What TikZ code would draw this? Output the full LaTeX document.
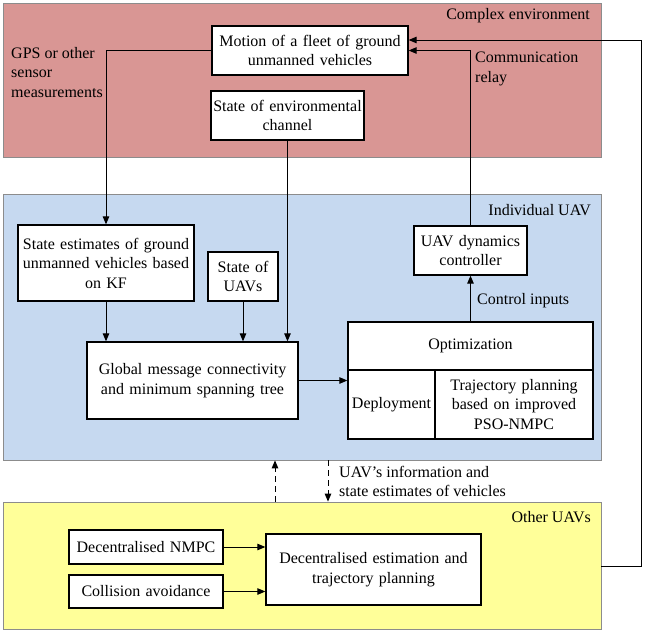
\documentclass[tikz,border=0pt]{standalone}
\usepackage{fontspec}
\setmainfont{Liberation Serif}
\usetikzlibrary{arrows.meta}
\definecolor{envred}{HTML}{D99694}
\definecolor{uavblue}{HTML}{C6D9F0}
\definecolor{othyel}{HTML}{FFFF99}
\definecolor{regline}{HTML}{8C8C8C}
\begin{document}
\begin{tikzpicture}[x=1pt,y=-1pt,
  every node/.style={font=\fontsize{16}{19.5}\selectfont},
  region/.style={draw=regline, line width=0.8pt, inner sep=0pt},
  box/.style={draw, fill=white, line width=1.3pt, align=center, inner xsep=2pt, inner ysep=1pt},
  conn/.style={line width=1pt, -{Triangle[length=8pt,width=6.5pt]}},
  dashconn/.style={conn, dash pattern=on 6pt off 4pt},
  lbl/.style={inner sep=0pt, align=left}
]
\useasboundingbox (0,0) rectangle (646,633);
% regions
\node[region, fill=envred, minimum width=598pt, minimum height=154pt] (redreg) at (302,80) {};
\node[region, fill=uavblue, minimum width=598pt, minimum height=266pt] (bluereg) at (302,327) {};
\node[region, fill=othyel, minimum width=598pt, minimum height=127pt] (yelreg) at (302,565.5) {};
% region labels
\node[lbl, anchor=east] (tcomplex) at (590,16) {Complex environment};
\node[lbl, anchor=east] (tindiv) at (591,210) {Individual UAV};
\node[lbl, anchor=east] (tother) at (591,517) {Other UAVs};
% boxes
\node[box, text width=192pt, minimum height=49pt] (motion) at (310,50.5) {Motion of a fleet of ground\\unmanned vehicles};
\node[box, text width=149pt, minimum height=49pt] (env) at (287.5,115.5) {State of environmental\\channel};
\node[box, text width=172pt, minimum height=76pt] (est) at (106,263) {State estimates of ground\\unmanned vehicles based\\on KF};
\node[box, text width=66pt, minimum height=49pt] (uavs) at (243,276.5) {State of\\UAVs};
\node[box, text width=109pt, minimum height=49pt] (dyn) at (470.5,250.5) {UAV dynamics\\controller};
\node[box, text width=207pt, minimum height=77pt] (global) at (192.5,380.5) {Global message connectivity\\and minimum spanning tree};
\node[box, text width=241pt, minimum height=48pt] (optt) at (470.5,346) {Optimization};
\node[box, text width=83pt, minimum height=69pt] (dep) at (391.5,404.5) {Deployment};
\node[box, text width=154pt, minimum height=69pt] (traj) at (514,404.5) {Trajectory planning\\based on improved\\PSO-NMPC};
\node[box, text width=150pt, minimum height=34pt] (nmpc) at (146,547) {Decentralised NMPC};
\node[box, text width=150pt, minimum height=33pt] (coll) at (146,591.5) {Collision avoidance};
\node[box, text width=211pt, minimum height=71pt] (dec) at (373.5,569.5) {Decentralised estimation and\\trajectory planning};
% labels
\node[lbl, anchor=west] (tgps) at (11,72.5) {GPS or other\\sensor\\measurements};
\node[lbl, anchor=west] (trelay) at (475,69) {Communication\\relay};
\node[lbl, anchor=west] (tctrl) at (477,301) {Control inputs};
\node[lbl, anchor=west] (tinfo) at (339,481.5) {UAV's information and\\state estimates of vehicles};
% connectors
\draw[conn] (motion.west) -| (est.north);
\draw[conn] (env.south) -- (env.south |- global.north);
\draw[conn] (est.south) -- (est.south |- global.north);
\draw[conn] (uavs.south) -- (uavs.south |- global.north);
\draw[conn] (global.east) -- (global.east -| dep.west);
\draw[conn] (optt.north) -- (dyn.south);
\draw[conn] (dyn.north) |- (motion.east);
\coordinate (yedge) at (601,566);
\coordinate (rtop) at (641,40);
\draw[conn] (yedge) -| (rtop) -- (rtop -| motion.east);
\draw[conn] (nmpc.east) -- (nmpc.east -| dec.west);
\draw[conn] (coll.east) -- (coll.east -| dec.west);
\coordinate (ua) at (275,0);
\coordinate (da) at (328,0);
\draw[dashconn] (ua |- yelreg.north) -- (ua |- bluereg.south);
\draw[dashconn] (da |- bluereg.south) -- (da |- yelreg.north);
\end{tikzpicture}
\end{document}
